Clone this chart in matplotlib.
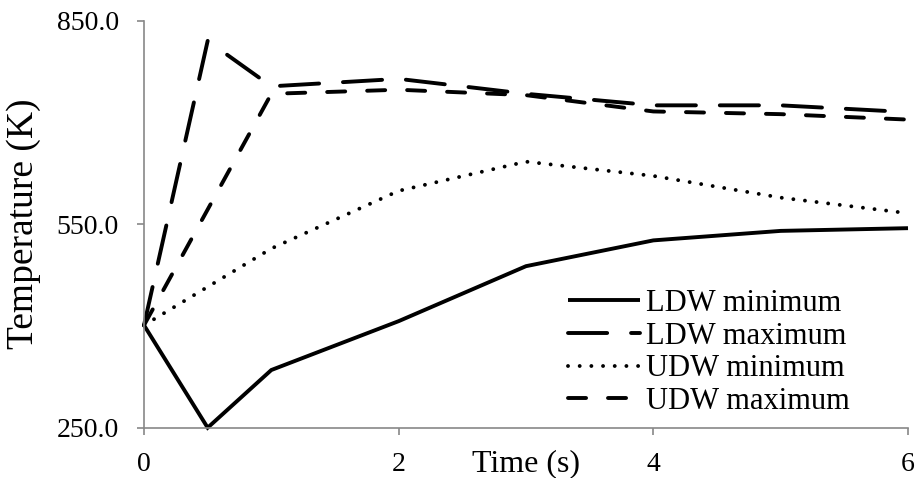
import matplotlib
matplotlib.use("Agg")
import matplotlib.pyplot as plt

# ---- data ----
x_ldw = [0, 0.5, 1, 2, 3, 4, 5, 6]
ldw_min = [401, 250, 335, 407, 488, 526, 540, 544]
ldw_max = [401, 820, 753, 764, 742, 725, 725, 715]
x_udw = [0, 1, 2, 3, 4, 5, 6]
udw_min = [401, 514, 599, 642, 621, 589, 566]
udw_max = [401, 742, 748, 740, 716, 712, 704]
labels = ["LDW minimum", "LDW maximum", "UDW minimum", "UDW maximum"]
x_ticks = [0, 2, 4, 6]
y_ticks = [250, 550, 850]

plt.rcParams['font.family'] = ['Liberation Serif', 'DejaVu Serif']
plt.rcParams['lines.scale_dashes'] = False

W, H = 918, 478
fig = plt.figure(figsize=(W / 100, H / 100), dpi=100)
L, R, T, B = 144, 908, 20.5, 427.7
ax = fig.add_axes([L / W, 1 - B / H, (R - L) / W, (B - T) / H])

lw = 2.8
common = dict(color='black', lw=lw, clip_on=False, solid_capstyle='butt',
              dash_capstyle='round', solid_joinstyle='miter')
ax.plot(x_ldw, ldw_min, ls='-', label=labels[0], **common)
ax.plot(x_ldw, ldw_max, ls=(0, (28.2, 17.2)), label=labels[1], **common)
ax.plot(x_udw, udw_min, ls=(0, (0.01, 8.4)), label=labels[2], **common)
ax.plot(x_udw, udw_max, ls=(0, (13, 15.8)), label=labels[3], **common)

ax.set_xlim(0, 6)
ax.set_ylim(250, 850)
ax.set_xticks(x_ticks)
ax.set_xticklabels([str(v) for v in x_ticks])
ax.set_yticks(y_ticks)
ax.set_yticklabels([f"{v:.1f}" for v in y_ticks])

spine_c = '#888888'
for s in ['top', 'right']:
    ax.spines[s].set_visible(False)
for s in ['left', 'bottom']:
    ax.spines[s].set_color(spine_c)
    ax.spines[s].set_linewidth(1.2)
ax.tick_params(axis='both', direction='out', length=5, width=1.2, color=spine_c,
               labelsize=20, labelcolor='black')
ax.tick_params(axis='y', pad=13)
ax.tick_params(axis='x', pad=12.5)

ax.set_xlabel("Time (s)", fontsize=23)
ax.xaxis.set_label_coords(0.5, -(464 - B) / (B - T))
ax.xaxis.label.set_va('center')
ax.set_ylabel("Temperature (K)", fontsize=27)
ax.yaxis.set_label_coords(-(L - 24) / (R - L), 0.5)
ax.yaxis.label.set_va('center')

fs_leg = 22
leg = ax.legend(loc='upper left', bbox_to_anchor=(568 / W, 1 - 289 / H),
                bbox_transform=fig.transFigure, frameon=False, fontsize=fs_leg,
                handlelength=52 / fs_leg, handletextpad=0.2, labelspacing=0.12,
                borderpad=0, borderaxespad=0)

fig.savefig("out.png", dpi=100)
